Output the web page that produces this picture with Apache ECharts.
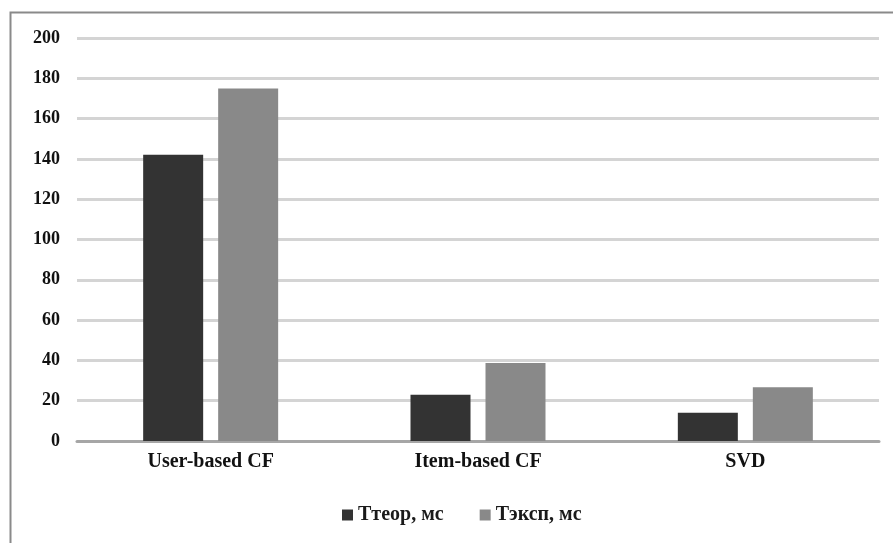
<!DOCTYPE html>
<html>
<head>
<meta charset="utf-8">
<script src="https://cdn.jsdelivr.net/npm/echarts@6/dist/echarts.min.js"></script>
<style>html,body{margin:0;padding:0;background:#fff;}#c{width:893px;height:543px;}</style>
</head>
<body>
<div id="c"></div>
<script>
const categories = ['User-based CF', 'Item-based CF', 'SVD'];
const seriesNames = ['Ттеор, мс', 'Тэксп, мс'];
const tTheor = [142, 23, 14];
const tExp = [175, 38.7, 26.7];
const yTicks = [0, 20, 40, 60, 80, 100, 120, 140, 160, 180, 200];

const chart = echarts.init(document.getElementById('c'));
const font = '"Liberation Serif", "DejaVu Serif", serif';
chart.setOption({
  animation: false,
  backgroundColor: '#fff',
  graphic: [{
    type: 'rect', left: 8, top: 10,
    shape: { x: 0, y: 0, width: 1000, height: 700 },
    style: { fill: 'none', stroke: '#8a8a8a', lineWidth: 2 },
    silent: true
  }],
  grid: { left: 77, right: 14, top: 38, bottom: 102, containLabel: false },
  legend: {
    top: 505, left: 342, padding: 0,
    itemWidth: 11, itemHeight: 11, itemGap: 36,
    icon: 'rect',
    textStyle: { fontFamily: font, fontWeight: 'bold', fontSize: 20, color: '#1a1a1a', padding: [0, 0, 0, 0] },
    data: seriesNames
  },
  xAxis: {
    type: 'category', data: categories,
    axisTick: { show: false },
    axisLine: { lineStyle: { color: '#a6a6a6', width: 3 } },
    axisLabel: { fontFamily: font, fontWeight: 'bold', fontSize: 20, color: '#111', margin: 11 }
  },
  yAxis: {
    type: 'value', min: 0, max: 200, interval: 20,
    axisLine: { show: false }, axisTick: { show: false },
    axisLabel: { fontFamily: font, fontWeight: 'bold', fontSize: 18, color: '#111', margin: 17,
      formatter: v => yTicks.includes(v) ? String(v) : '' },
    splitLine: { lineStyle: { color: '#d4d4d4', width: 3 } }
  },
  series: [
    { name: seriesNames[0], type: 'bar', data: tTheor, barWidth: 60, barGap: '25%',
      itemStyle: { color: '#333333' } },
    { name: seriesNames[1], type: 'bar', data: tExp, barWidth: 60,
      itemStyle: { color: '#898989' } }
  ]
});
</script>
</body>
</html>
